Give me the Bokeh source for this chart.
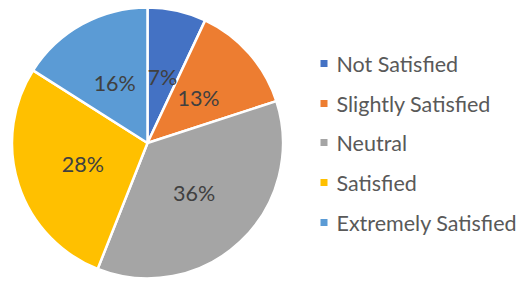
import math
from bokeh.plotting import figure
from bokeh.models import ColumnDataSource, Range1d
from bokeh.embed import file_html
from bokeh.resources import INLINE
from bokeh.core.properties import value

categories = ["Not Satisfied", "Slightly Satisfied", "Neutral", "Satisfied", "Extremely Satisfied"]
percents = [7, 13, 36, 28, 16]
colors = ["#4472C4", "#ED7D31", "#A5A5A5", "#FFC000", "#5B9BD5"]

W, H = 521, 282
p = figure(width=W, height=H, output_backend="svg", toolbar_location=None,
           x_range=Range1d(0, W), y_range=Range1d(0, H), min_border=0)
p.axis.visible = False
p.grid.visible = False
p.outline_line_color = None
p.background_fill_color = "white"
p.border_fill_color = "white"

cx, cy, R = 147.0, 282 - 142.5, 135.5
total = sum(percents)
starts, ends, mids = [], [], []
acc = 0.0
for v in percents:
    a0 = math.pi / 2 - 2 * math.pi * acc / total
    acc += v
    a1 = math.pi / 2 - 2 * math.pi * acc / total
    starts.append(a0)
    ends.append(a1)
    mids.append((a0 + a1) / 2)

src = ColumnDataSource(dict(start=starts, end=ends, color=colors, cat=categories))
p.wedge(x=cx, y=cy, radius=R, start_angle="start", end_angle="end", direction="clock",
        fill_color="color", line_color="white", line_width=2.5, source=src)

lr = 68
lab = ColumnDataSource(dict(x=[cx + lr * math.cos(m) for m in mids],
                            y=[cy + lr * math.sin(m) for m in mids],
                            t=[f"{v}%" for v in percents]))
p.text(x="x", y="y", text="t", source=lab, text_align="center", text_baseline="middle",
       text_font=value("Lato"), text_font_size="21.5px", text_color="#404040")

# legend
ly = [282 - y for y in [63, 103, 142, 182, 222]]
leg = ColumnDataSource(dict(y=ly, color=colors, cat=categories))
p.rect(x=323.5, y="y", width=7, height=7, fill_color="color", line_color=None, source=leg)
p.text(x=336, y="y", text="cat", source=leg, text_align="left", text_baseline="middle",
       text_font=value("Lato"), text_font_size="21.5px", text_color="#595959")

open("out.html", "w").write(file_html(p, INLINE))
